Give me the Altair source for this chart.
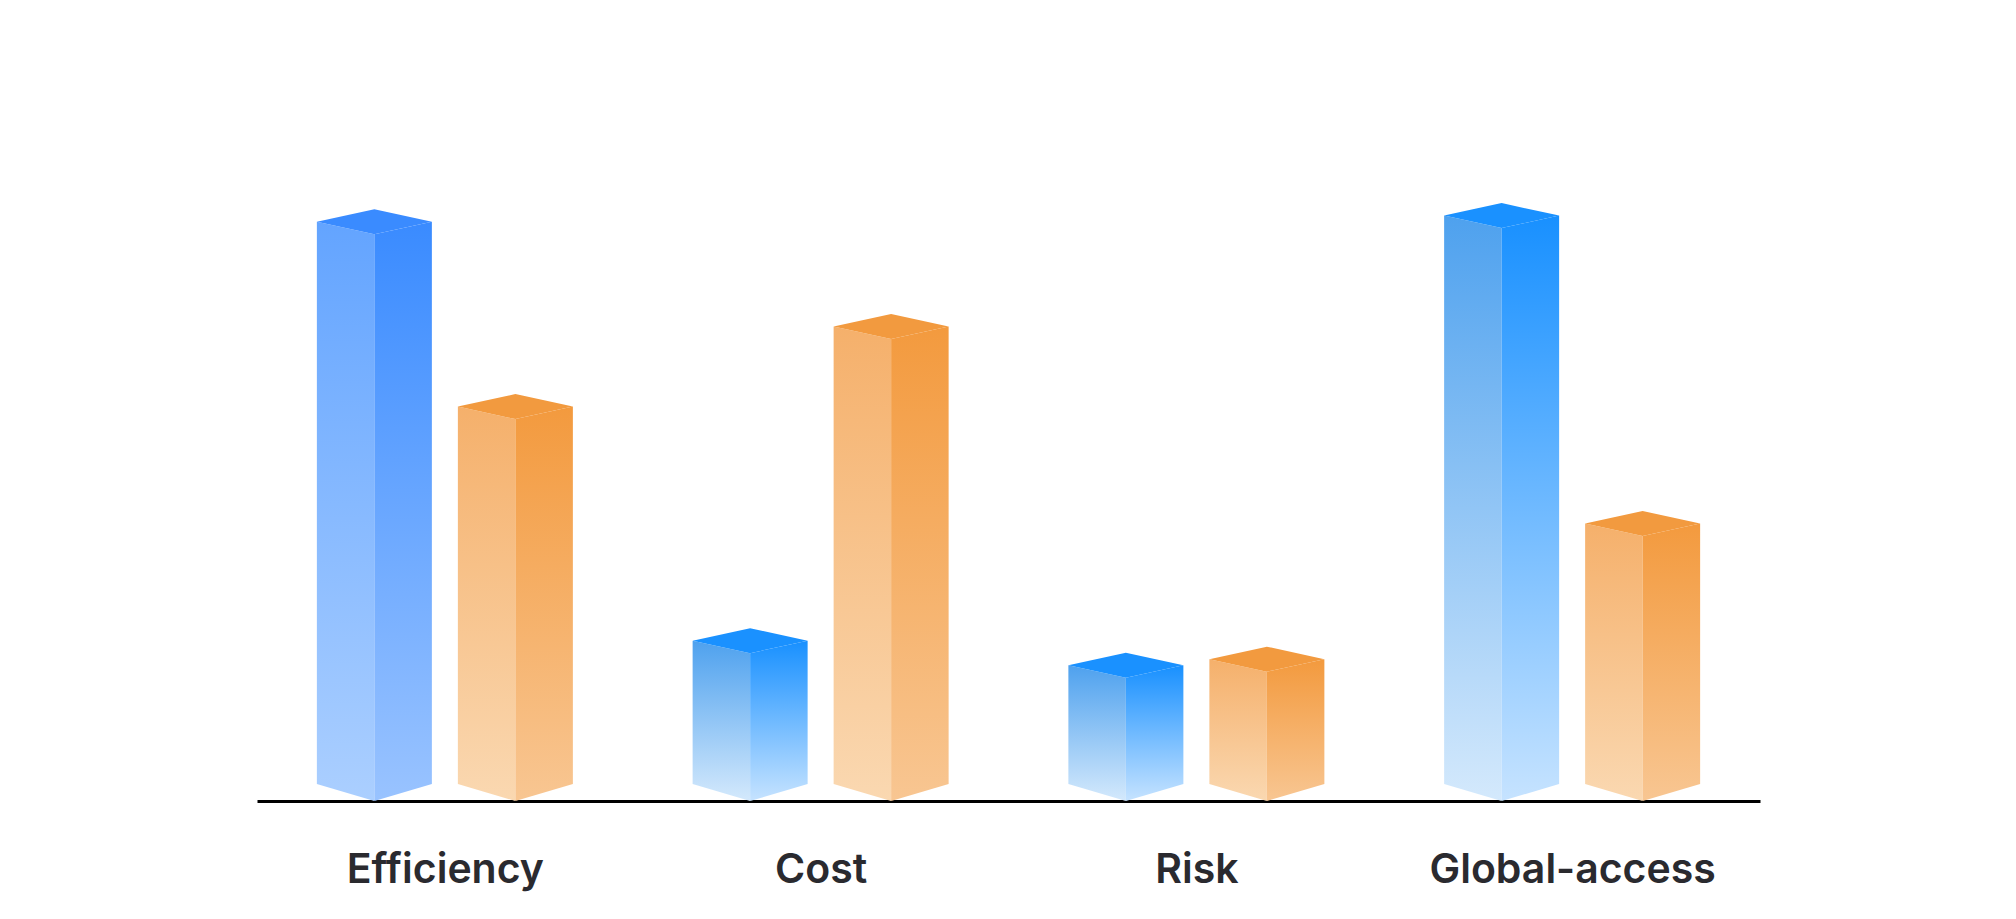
import json
import altair as alt
import pandas as pd

# ---- data ----
categories = ["Efficiency", "Cost", "Risk", "Global-access"]
series_a = [92, 24, 20, 93]   # blue bars
series_b = [62, 75, 21, 43]   # orange bars

# ---- layout / style constants ----
PLOT_W, PLOT_H = 1503, 616
Y_MAX = 100
BAR_PX = 115          # bar width in px
OFFSET_PX = 70.5      # bar centre offset from category centre in px
TOP_DEPTH_PX = 12.5   # height of the top diamond half
BOT_DEPTH_PX = 17     # slant of the bottom edge

xu = len(categories) / PLOT_W   # data units per px (x)
yu = Y_MAX / PLOT_H             # data units per px (y)
half = BAR_PX / 2 * xu
off = OFFSET_PX * xu
td = TOP_DEPTH_PX * yu
bd = BOT_DEPTH_PX * yu

styles = {
    "blue_hi": dict(left=("#63a4ff", "#abcfff"), right=("#3a8bff", "#99c3ff"), top="#3a8bff"),
    "blue": dict(left=("#4ea1ee", "#d4e9fc"), right=("#1890ff", "#c6e3ff"), top="#1a91ff"),
    "orange": dict(left=("#f5b06b", "#fad8b1"), right=("#f39a3e", "#f8c692"), top="#f29a3f"),
}

rows = {}
for i, cat in enumerate(categories):
    for s, vals in enumerate([series_a, series_b]):
        v = vals[i]
        cx = i + 0.5 + (-off if s == 0 else off)
        l, r = cx - half, cx + half
        style = ("blue_hi" if i == 0 else "blue") if s == 0 else "orange"
        bid = f"b{i}{s}"
        rows.setdefault((style, "left"), []).extend([
            dict(bar=bid, px=l, py=v + td, py2=bd),
            dict(bar=bid, px=cx, py=v, py2=0)])
        rows.setdefault((style, "right"), []).extend([
            dict(bar=bid, px=cx, py=v, py2=0),
            dict(bar=bid, px=r, py=v + td, py2=bd)])
        rows.setdefault((style, "top"), []).extend([
            dict(bar=bid, px=l, py=v + td, py2=v + td),
            dict(bar=bid, px=cx, py=v + 2 * td, py2=v),
            dict(bar=bid, px=r, py=v + td, py2=v + td)])

label_expr = json.dumps(categories) + "[floor(datum.value)]"

x_axis = alt.Axis(
    values=[i + 0.5 for i in range(len(categories))],
    labelExpr=label_expr,
    grid=False,
    ticks=False,
    domainColor="#000000",
    domainWidth=3,
    labelFont="Inter",
    labelFontSize=41,
    labelFontWeight=600,
    labelColor="#2a2a2f",
    labelBaseline="alphabetic",
    labelPadding=81,
    labelFlush=False,
    labelOverlap=False,
    labelLimit=0,
)
x_scale = alt.Scale(domain=[0, len(categories)], nice=False, zero=False)
y_scale = alt.Scale(domain=[0, Y_MAX], nice=False, zero=False)

layers = []
for style, st in styles.items():
    for face in ["left", "right", "top"]:
        if face == "top":
            color = st["top"]
        else:
            c0, c1 = st[face]
            color = alt.Gradient(
                gradient="linear",
                stops=[alt.GradientStop(color=c0, offset=0), alt.GradientStop(color=c1, offset=1)],
                x1=0, y1=0, x2=0, y2=1,
            )
        d = pd.DataFrame(rows[(style, face)])
        layer = alt.Chart(d).mark_area(color=color, orient="vertical").encode(
            x=alt.X("px:Q", scale=x_scale, axis=x_axis, title=None),
            y=alt.Y("py:Q", scale=y_scale, axis=None),
            y2="py2:Q",
            detail="bar:N",
        )
        layers.append(layer)

chart = alt.layer(*layers).properties(
    width=PLOT_W,
    height=PLOT_H,
    autosize=alt.AutoSizeParams(type="none"),
    padding={"left": 249, "top": 177, "right": 248, "bottom": 100},
    background="white",
).configure_view(stroke=None)

chart.save("out.html", embed_options={"renderer": "svg", "actions": False})
